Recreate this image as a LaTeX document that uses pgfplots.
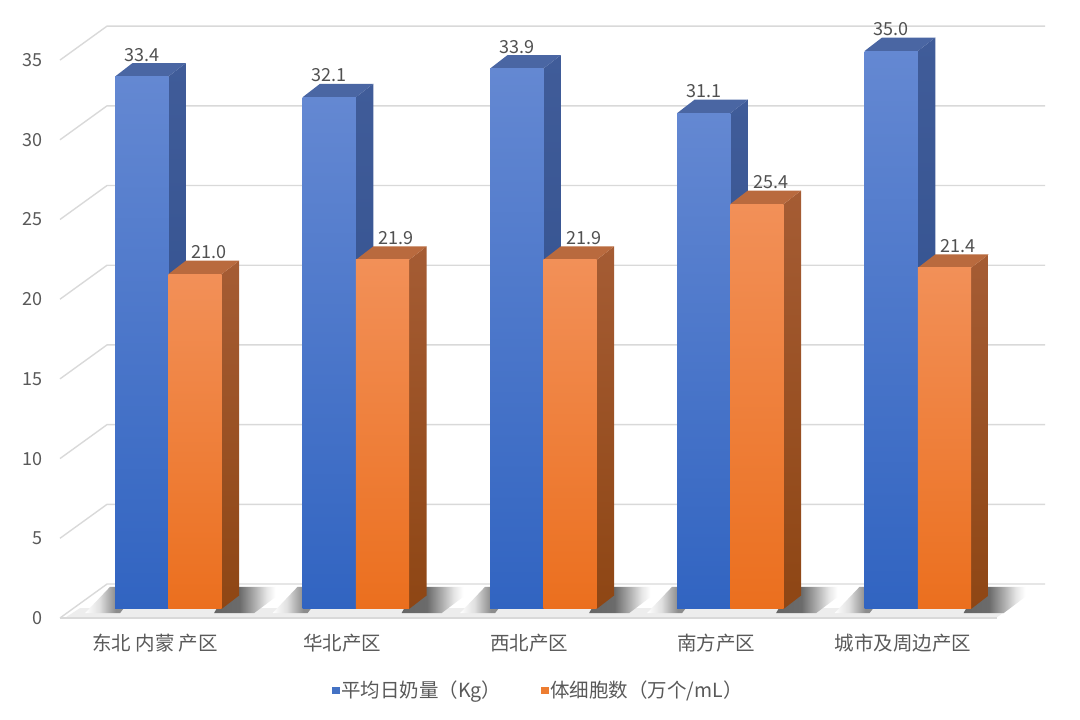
\documentclass[border=0pt]{standalone}
\usepackage{pgfplots}
\pgfplotsset{compat=1.18}
\usepackage{fontspec}
\setmainfont{Noto Sans CJK SC}
\definecolor{txt}{HTML}{595959}
\definecolor{vtxt}{HTML}{505050}
\definecolor{gridc}{HTML}{D9D9D9}
\definecolor{blueFT}{HTML}{6488D2}
\definecolor{blueFB}{HTML}{3164C1}
\definecolor{blueST}{HTML}{405C99}
\definecolor{blueSB}{HTML}{2C4C8A}
\definecolor{blueTP}{HTML}{4A66A3}
\definecolor{orFT}{HTML}{F29058}
\definecolor{orFB}{HTML}{EB6F1E}
\definecolor{orST}{HTML}{A55C34}
\definecolor{orSB}{HTML}{8E4614}
\definecolor{orTP}{HTML}{B96A3E}
\definecolor{legB}{HTML}{4472C4}
\definecolor{legO}{HTML}{ED7D31}
\pgfdeclarehorizontalshading{shadowR}{100bp}{color(0bp)=(black!60); color(25bp)=(black!60); color(42bp)=(black!58); color(52bp)=(black!32); color(60bp)=(black!10); color(66bp)=(white); color(100bp)=(white)}
\pgfdeclarehorizontalshading{shadowL}{100bp}{color(0bp)=(white); color(25bp)=(white); color(38bp)=(black!12); color(46bp)=(black!30); color(53bp)=(black!45); color(100bp)=(black!45)}
\newcommand\tickfont{\fontsize{18}{20}\selectfont}
\newcommand\catfont{\fontsize{19.5}{22}\selectfont}
\def\B{0.565}
\def\DX{17.5}
\def\DY{0.847}
\def\W{53.3}
\tikzset{vlabel/.style={anchor=south, inner sep=1.5pt, font=\tickfont, text=vtxt}}
% #1 left x, #2 value, #3 front top, #4 front bottom, #5 side top, #6 side bottom, #7 top face, #8 label shift
\newcommand\drawbar[8]{%
 \pgfmathsetmacro\xl{#1}%
 \pgfmathsetmacro\xr{#1+\W}%
 \pgfmathsetmacro\xls{#1+\DX}%
 \pgfmathsetmacro\xrs{#1+\W+\DX}%
 \pgfmathsetmacro\yt{#2+\B}%
 \pgfmathsetmacro\ybs{\B+\DY}%
 \pgfmathsetmacro\yts{#2+\B+\DY}%
 \pgfmathsetmacro\xc{#1+\W/2+#8}%
 \edef\tmp{%
  \noexpand\addplot[forget plot, draw=none, top color=#5, bottom color=#6] coordinates {(\xr,\B) (\xrs,\ybs) (\xrs,\yts) (\xr,\yt)};
  \noexpand\addplot[forget plot, draw=none, fill=#7] coordinates {(\xl,\yt) (\xr,\yt) (\xrs,\yts) (\xls,\yts)};
  \noexpand\addplot[forget plot, draw=none, top color=#3, bottom color=#4] coordinates {(\xl,\B) (\xr,\B) (\xr,\yt) (\xl,\yt)};
  \noexpand\node[vlabel] at (axis cs:\xc,\yts) {#2};
 }\tmp
}
% #1 = left x of blue bar of the group
\newcommand\drawshadow[1]{%
 \pgfmathsetmacro\la{#1-30}%
 \pgfmathsetmacro\lb{#1+5}%
 \pgfmathsetmacro\lc{#1+25}%
 \pgfmathsetmacro\ld{#1-5}%
 \pgfmathsetmacro\ra{#1+124-25}%
 \pgfmathsetmacro\rb{#1+124+15}%
 \pgfmathsetmacro\rc{#1+124+50}%
 \pgfmathsetmacro\rd{#1+124-10}%
 \edef\tmp{%
  \noexpand\addplot[forget plot, draw=none, shading=shadowL] coordinates {(\la,0.3) (\lb,0.3) (\lc,1.95) (\ld,1.95)};
  \noexpand\addplot[forget plot, draw=none, shading=shadowR] coordinates {(\ra,0.3) (\rb,0.3) (\rc,1.95) (\rd,1.95)};
 }\tmp
}
\begin{document}
\begin{tikzpicture}
\begin{axis}[
  x=1pt, y=15.94pt,
  xmin=0, xmax=1080, ymin=-6.399, ymax=38.77,
  clip=false,
  axis line style={draw=none},
  tick style={draw=none},
  major tick length=0pt,
  ytick={0,5,...,35},
  yticklabel style={anchor=east, inner sep=0pt, xshift=43pt, font=\tickfont, text=txt},
  xtick={155,342,529,716,903},
  xticklabels={东北 内蒙 产区, 华北产区, 西北产区, 南方产区, 城市及周边产区},
  xticklabel style={anchor=center, inner sep=0pt, yshift=77pt, font=\catfont, text=txt},
  /pgf/number format/assume math mode=true,
  legend columns=2,
  legend style={at={(axis cs:538.5,-4.52)}, anchor=center, draw=none, fill=none,
    font=\catfont, text=txt, inner sep=0pt,
    /tikz/every even column/.append style={column sep=38pt}},
  legend image code/.code={\fill[#1] (0pt,-3.3pt) rectangle (6.6pt,3.3pt);},
]
% floor
\addplot[forget plot, draw=none, fill=white] coordinates {(60,0) (997,0) (1043,2.13) (107,2.13)};
\addplot[forget plot, draw=none, fill=black!7] coordinates {(66,0.05) (997,0.05) (1010,0.62) (80,0.62)};
% back gridlines and left wall diagonals
\pgfplotsinvokeforeach{0,5,10,15,20,25,30,35}{
  \addplot[forget plot, gridc, line width=1.4pt] table[row sep=\\, y expr=\thisrow{y}+#1] {x y\\ 60 0\\ 107 2.13\\ 1045 2.13\\};
}
% shadows
\drawshadow{115}
\drawshadow{302.5}
\drawshadow{490}
\drawshadow{677}
\drawshadow{864.5}
\addplot[forget plot, gridc, line width=2pt] coordinates {(60,0) (997,0)};
% bars
\drawbar{115}{33.4}{blueFT}{blueFB}{blueST}{blueSB}{blueTP}{0}
\drawbar{168.3}{21.0}{orFT}{orFB}{orST}{orSB}{orTP}{14}
\drawbar{302.5}{32.1}{blueFT}{blueFB}{blueST}{blueSB}{blueTP}{0}
\drawbar{355.8}{21.9}{orFT}{orFB}{orST}{orSB}{orTP}{14}
\drawbar{490}{33.9}{blueFT}{blueFB}{blueST}{blueSB}{blueTP}{0}
\drawbar{543.3}{21.9}{orFT}{orFB}{orST}{orSB}{orTP}{14}
\drawbar{677}{31.1}{blueFT}{blueFB}{blueST}{blueSB}{blueTP}{0}
\drawbar{730.3}{25.4}{orFT}{orFB}{orST}{orSB}{orTP}{14}
\drawbar{864.5}{35.0}{blueFT}{blueFB}{blueST}{blueSB}{blueTP}{0}
\drawbar{917.8}{21.4}{orFT}{orFB}{orST}{orSB}{orTP}{14}
% legend
\addlegendimage{legB}
\addlegendentry{平均日奶量（Kg）}
\addlegendimage{legO}
\addlegendentry{体细胞数（万个/mL）}
\end{axis}
\pgfresetboundingbox
\path[use as bounding box] (current axis.south west) rectangle (current axis.north east);
\end{tikzpicture}
\end{document}
